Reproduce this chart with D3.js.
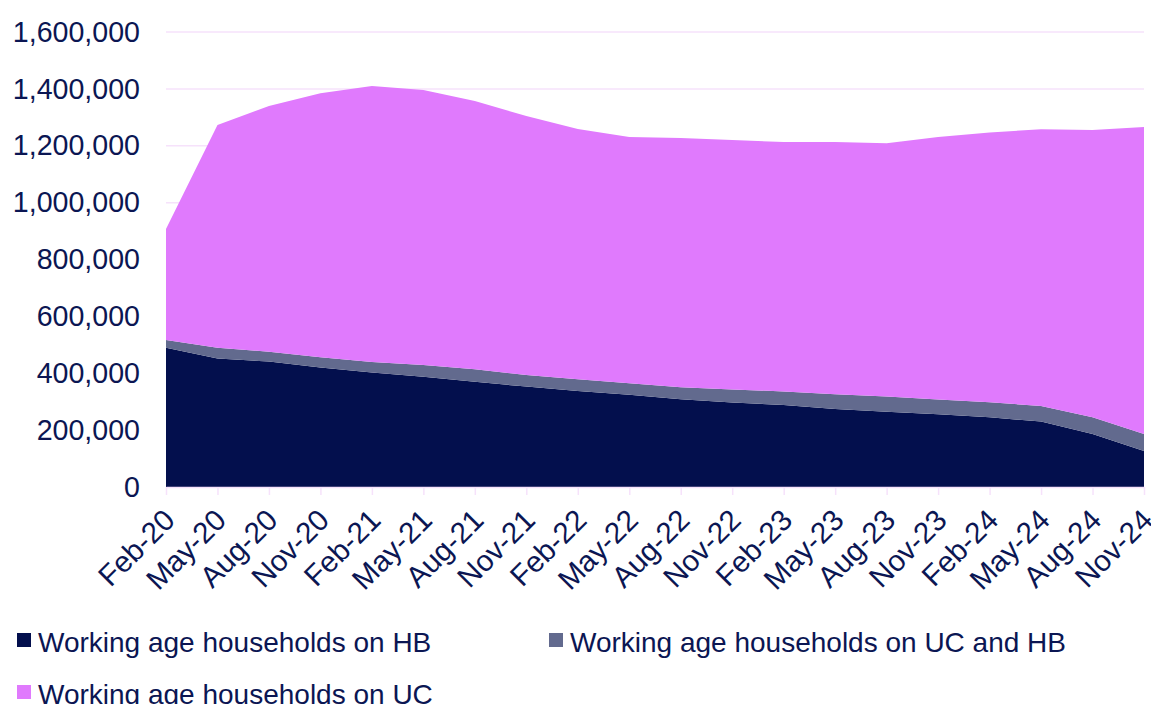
<!DOCTYPE html>
<html>
<head>
<meta charset="utf-8">
<script src="https://cdn.jsdelivr.net/npm/d3@7"></script>
<style>
  html, body { margin: 0; padding: 0; background: #ffffff; }
  svg { display: block; font-family: "Liberation Sans", Arial, sans-serif; }
</style>
</head>
<body>
<svg id="chart" width="1151" height="704"></svg>
<script>
// Quarterly months
const categories = ["Feb-20","May-20","Aug-20","Nov-20","Feb-21","May-21","Aug-21","Nov-21",
  "Feb-22","May-22","Aug-22","Nov-22","Feb-23","May-23","Aug-23","Nov-23",
  "Feb-24","May-24","Aug-24","Nov-24"];

// Households (stacked, bottom to top)
const hbOnly = [490000,452000,441000,420000,403000,388000,370000,353000,338000,324000,
  309000,297000,288000,274000,265000,256000,245000,230000,186000,127000];
const ucAndHb = [27000,38000,35000,36000,37000,41000,44000,41000,41000,41000,
  42000,46000,48000,52000,53000,52000,53000,55000,59000,59000];
const ucOnly = [390000,783000,864000,929000,970000,967000,943000,911000,880000,866000,
  876000,877000,877000,887000,891000,923000,949000,973000,1010000,1080000];

const seriesNames = ["Working age households on HB", "Working age households on UC and HB", "Working age households on UC"];
const seriesColors = ["#030f4d", "#626a8e", "#e07afd"];
const yTicks = [0,200000,400000,600000,800000,1000000,1200000,1400000,1600000];

const textColor = "#0b1653";
const gridColor = "#f6e2fb";

const svg = d3.select("#chart");
const margin = { left: 166, right: 7, top: 32, bottom: 217 };
const W = 1151, H = 704;
const plotW = W - margin.left - margin.right;
const plotH = H - margin.top - margin.bottom;

const rows = categories.map((c, i) => ({ cat: c, hb: hbOnly[i], both: ucAndHb[i], uc: ucOnly[i] }));
const keys = ["hb", "both", "uc"];
const stacked = d3.stack().keys(keys)(rows);

const x = d3.scalePoint().domain(categories).range([margin.left, margin.left + plotW]);
const y = d3.scaleLinear().domain([0, 1600000]).range([margin.top + plotH, margin.top]);

// Gridlines
svg.append("g").selectAll("line").data(yTicks.filter(d => d > 0)).join("line")
  .attr("x1", margin.left).attr("x2", margin.left + plotW)
  .attr("y1", d => y(d)).attr("y2", d => y(d))
  .attr("stroke", gridColor).attr("stroke-width", 1.5);

// Stacked areas
const area = d3.area()
  .x(d => x(d.data.cat))
  .y0(d => y(d[0]))
  .y1(d => y(d[1]));

svg.append("g").selectAll("path").data(stacked).join("path")
  .attr("d", area)
  .attr("fill", (d, i) => seriesColors[i]);

// X axis
const xAxis = svg.append("g")
  .attr("transform", `translate(0,${margin.top + plotH})`)
  .call(d3.axisBottom(x).tickSize(8).tickSizeOuter(0));
xAxis.select(".domain").attr("stroke", gridColor).attr("stroke-width", 1.5);
xAxis.selectAll(".tick line").attr("stroke", gridColor).attr("stroke-width", 1.5);
xAxis.selectAll(".tick text")
  .attr("fill", textColor)
  .style("font-size", "29.5px")
  .attr("text-anchor", "end")
  .attr("x", 0).attr("y", 0).attr("dy", "0")
  .attr("transform", "translate(10,35) rotate(-45)");

// Y axis
const yAxis = svg.append("g")
  .attr("transform", `translate(${margin.left},0)`)
  .call(d3.axisLeft(y).tickValues(yTicks).tickSize(0).tickPadding(26).tickFormat(d3.format(",")));
yAxis.select(".domain").remove();
yAxis.selectAll(".tick text")
  .attr("fill", textColor)
  .style("font-size", "28.6px");

// Legend
const legendPos = [[17, 633], [549, 633], [17, 685]];
const legend = svg.append("g");
seriesNames.forEach((name, i) => {
  const [lx, ly] = legendPos[i];
  legend.append("rect").attr("x", lx).attr("y", ly).attr("width", 14).attr("height", 14)
    .attr("fill", seriesColors[i]);
  legend.append("text").attr("x", lx + 21).attr("y", ly + 19)
    .attr("fill", textColor).style("font-size", "28px").text(name);
});
</script>
</body>
</html>
